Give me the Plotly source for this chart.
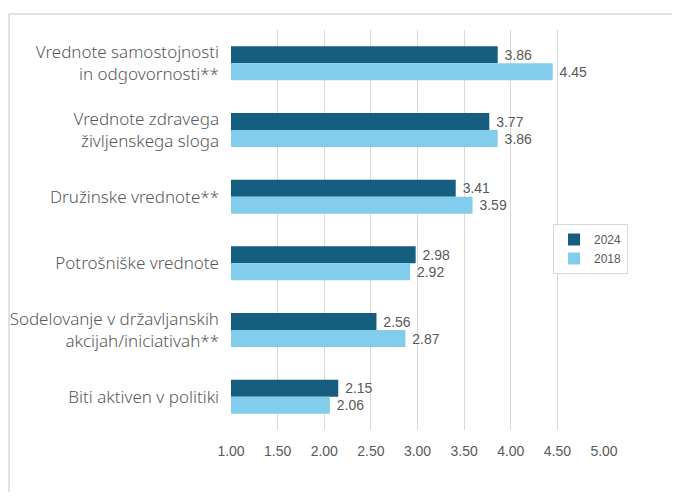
import plotly.graph_objects as go

categories = [
    "Vrednote samostojnosti<br>in odgovornosti**",
    "Vrednote zdravega<br>življenskega sloga",
    "Družinske vrednote**",
    "Potrošniške vrednote",
    "Sodelovanje v državljanskih<br>akcijah/iniciativah**",
    "Biti aktiven v politiki",
]
values_2024 = [3.86, 3.77, 3.41, 2.98, 2.56, 2.15]
values_2018 = [4.45, 3.86, 3.59, 2.92, 2.87, 2.06]
tick_vals = [1.0, 1.5, 2.0, 2.5, 3.0, 3.5, 4.0, 4.5, 5.0]
tick_text = ["1.00", "1.50", "2.00", "2.50", "3.00", "3.50", "4.00", "4.50", "5.00"]

DARK = "#165e80"
LIGHT = "#82cdeb"
TXT = "#595959"

W, H = 664, 484
L, R, T, B = 223, 68, 22, 62
PW = W - L - R
PH = H - T - B

fig = go.Figure()
for name, vals, col in [("2024", values_2024, DARK), ("2018", values_2018, LIGHT)]:
    fig.add_trace(go.Bar(
        name=name, y=categories, x=vals, orientation="h",
        marker=dict(color=col, line=dict(width=0)),
        text=[f" {v:.2f}" for v in vals], textposition="outside",
        textfont=dict(family="Liberation Sans, Arial", size=14, color=TXT),
        cliponaxis=False,
    ))

left_x = (1 - L) / PW
top_y = 1 + (T - 6) / PH
far_x = (W + 40 - L) / PW
far_y = 1 - (H + 40 - T) / PH
border = dict(color="#d9d9d9", width=1.5)

fig.update_layout(
    width=W, height=H,
    margin=dict(l=L, r=R, t=T, b=B, autoexpand=False),
    paper_bgcolor="white", plot_bgcolor="white",
    barmode="group", bargap=0.49, bargroupgap=0,
    showlegend=True,
    legend=dict(
        x=(545 - L) / PW, y=1 - (216 - T) / PH, xanchor="left", yanchor="top",
        bordercolor="#d9d9d9", borderwidth=1,
        font=dict(family="Liberation Sans, Arial", size=12, color=TXT),
        itemwidth=30, tracegroupgap=0,
    ),
    xaxis=dict(
        range=[1, 5], tickvals=tick_vals, ticktext=tick_text,
        showgrid=True, gridcolor="#d9d9d9", gridwidth=1,
        zeroline=False, showline=False, ticks="", automargin=False,
        tickfont=dict(family="Liberation Sans, Arial", size=14, color=TXT),
        ticklabelstandoff=11,
    ),
    yaxis=dict(
        autorange="reversed", showgrid=False, showline=False, ticks="",
        automargin=False,
        tickfont=dict(family="Noto Sans", size=17, color=TXT, weight=300),
        ticklabelstandoff=11,
    ),
    shapes=[
        dict(type="line", xref="paper", yref="paper",
             x0=left_x, x1=far_x, y0=top_y, y1=top_y, line=border, layer="below"),
        dict(type="line", xref="paper", yref="paper",
             x0=left_x, x1=left_x, y0=far_y, y1=top_y, line=border, layer="below"),
    ],
)

fig.write_html("out.html")
